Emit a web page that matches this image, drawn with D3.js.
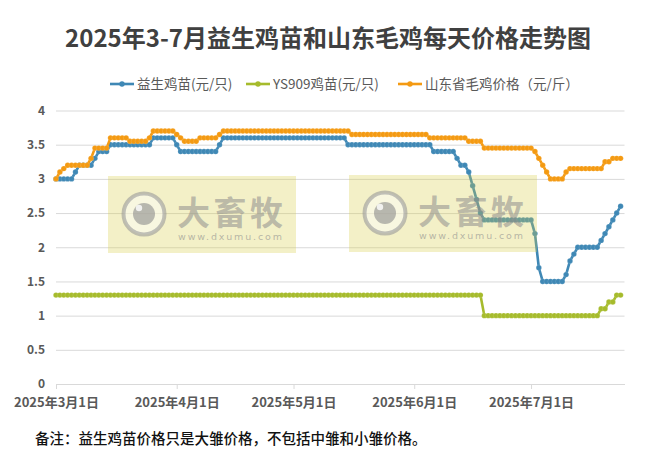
<!DOCTYPE html>
<html>
<head>
<meta charset="utf-8">
<script src="https://cdn.jsdelivr.net/npm/d3@7"></script>
<style>
  body { margin: 0; background: #fff; }
  svg { display: block; font-family: "Noto Sans CJK SC", "Noto Sans", sans-serif; }
</style>
</head>
<body>
<svg id="chart" width="662" height="459"></svg>
<script>
const title = '2025年3-7月益生鸡苗和山东毛鸡每天价格走势图'
const note = '备注：益生鸡苗价格只是大雏价格，不包括中雏和小雏价格。'
const seriesNames = ['益生鸡苗(元/只)', 'YS909鸡苗(元/只)', '山东省毛鸡价格（元/斤）']
const seriesColors = ['#3f88b5', '#a6bb2c', '#f49a12']
const startDate = '2025-03-01'
const endDate = '2025-07-25'
const tickDates = ['2025-03-01', '2025-04-01', '2025-05-01', '2025-06-01', '2025-07-01']
const tickLabels = ['2025年3月1日', '2025年4月1日', '2025年5月1日', '2025年6月1日', '2025年7月1日']
const yTicks = [0, 0.5, 1, 1.5, 2, 2.5, 3, 3.5, 4]

// daily prices from 3/1, one row per month
const yishengPrice = [
  3, 3, 3, 3, 3, 3.1, 3.2, 3.2, 3.2, 3.2, 3.3, 3.4, 3.4, 3.4, 3.5, 3.5, 3.5, 3.5, 3.5, 3.5, 3.5, 3.5, 3.5, 3.5, 3.5, 3.6, 3.6, 3.6, 3.6, 3.6, 3.6,
  3.5, 3.4, 3.4, 3.4, 3.4, 3.4, 3.4, 3.4, 3.4, 3.4, 3.4, 3.5, 3.6, 3.6, 3.6, 3.6, 3.6, 3.6, 3.6, 3.6, 3.6, 3.6, 3.6, 3.6, 3.6, 3.6, 3.6, 3.6, 3.6, 3.6,
  3.6, 3.6, 3.6, 3.6, 3.6, 3.6, 3.6, 3.6, 3.6, 3.6, 3.6, 3.6, 3.6, 3.6, 3.5, 3.5, 3.5, 3.5, 3.5, 3.5, 3.5, 3.5, 3.5, 3.5, 3.5, 3.5, 3.5, 3.5, 3.5, 3.5, 3.5,
  3.5, 3.5, 3.5, 3.5, 3.5, 3.4, 3.4, 3.4, 3.4, 3.4, 3.4, 3.3, 3.2, 3.2, 3.1, 2.9, 2.7, 2.5, 2.4, 2.4, 2.4, 2.4, 2.4, 2.4, 2.4, 2.4, 2.4, 2.4, 2.4, 2.4,
  2.4, 2.2, 1.7, 1.5, 1.5, 1.5, 1.5, 1.5, 1.5, 1.6, 1.8, 1.9, 2, 2, 2, 2, 2, 2, 2.1, 2.2, 2.3, 2.4, 2.5, 2.6
]
const ys909Price = [
  1.3, 1.3, 1.3, 1.3, 1.3, 1.3, 1.3, 1.3, 1.3, 1.3, 1.3, 1.3, 1.3, 1.3, 1.3, 1.3, 1.3, 1.3, 1.3, 1.3, 1.3, 1.3, 1.3, 1.3, 1.3, 1.3, 1.3, 1.3, 1.3, 1.3, 1.3,
  1.3, 1.3, 1.3, 1.3, 1.3, 1.3, 1.3, 1.3, 1.3, 1.3, 1.3, 1.3, 1.3, 1.3, 1.3, 1.3, 1.3, 1.3, 1.3, 1.3, 1.3, 1.3, 1.3, 1.3, 1.3, 1.3, 1.3, 1.3, 1.3, 1.3,
  1.3, 1.3, 1.3, 1.3, 1.3, 1.3, 1.3, 1.3, 1.3, 1.3, 1.3, 1.3, 1.3, 1.3, 1.3, 1.3, 1.3, 1.3, 1.3, 1.3, 1.3, 1.3, 1.3, 1.3, 1.3, 1.3, 1.3, 1.3, 1.3, 1.3, 1.3,
  1.3, 1.3, 1.3, 1.3, 1.3, 1.3, 1.3, 1.3, 1.3, 1.3, 1.3, 1.3, 1.3, 1.3, 1.3, 1.3, 1.3, 1.3, 1, 1, 1, 1, 1, 1, 1, 1, 1, 1, 1, 1,
  1, 1, 1, 1, 1, 1, 1, 1, 1, 1, 1, 1, 1, 1, 1, 1, 1, 1, 1.1, 1.1, 1.2, 1.2, 1.3, 1.3
]
const maojiPrice = [
  3, 3.1, 3.15, 3.2, 3.2, 3.2, 3.2, 3.2, 3.2, 3.3, 3.45, 3.45, 3.45, 3.45, 3.6, 3.6, 3.6, 3.6, 3.6, 3.55, 3.55, 3.55, 3.55, 3.55, 3.6, 3.7, 3.7, 3.7, 3.7, 3.7, 3.7,
  3.65, 3.6, 3.55, 3.55, 3.55, 3.55, 3.6, 3.6, 3.6, 3.6, 3.6, 3.65, 3.7, 3.7, 3.7, 3.7, 3.7, 3.7, 3.7, 3.7, 3.7, 3.7, 3.7, 3.7, 3.7, 3.7, 3.7, 3.7, 3.7, 3.7,
  3.7, 3.7, 3.7, 3.7, 3.7, 3.7, 3.7, 3.7, 3.7, 3.7, 3.7, 3.7, 3.7, 3.7, 3.7, 3.65, 3.65, 3.65, 3.65, 3.65, 3.65, 3.65, 3.65, 3.65, 3.65, 3.65, 3.65, 3.65, 3.65, 3.65, 3.65,
  3.65, 3.65, 3.65, 3.65, 3.6, 3.6, 3.6, 3.6, 3.6, 3.6, 3.6, 3.6, 3.6, 3.6, 3.55, 3.55, 3.55, 3.55, 3.45, 3.45, 3.45, 3.45, 3.45, 3.45, 3.45, 3.45, 3.45, 3.45, 3.45, 3.45,
  3.45, 3.4, 3.3, 3.2, 3.1, 3, 3, 3, 3, 3.1, 3.15, 3.15, 3.15, 3.15, 3.15, 3.15, 3.15, 3.15, 3.15, 3.25, 3.25, 3.3, 3.3, 3.3
]

const svg = d3.select('#chart')
const parseDate = d3.timeParse('%Y-%m-%d')

// plot area
const plot = { left: 56, right: 624.5, top: 110.5, bottom: 384 }

const first = parseDate(startDate)
const dates = d3.timeDay.range(first, d3.timeDay.offset(first, yishengPrice.length))
const series = [yishengPrice, ys909Price, maojiPrice].map((values, i) => ({
  name: seriesNames[i],
  color: seriesColors[i],
  points: values.map((v, j) => ({ date: dates[j], value: v }))
}))

const xScale = d3.scaleTime()
  .domain([first, parseDate(endDate)])
  .range([plot.left, plot.right])

const yScale = d3.scaleLinear()
  .domain([0, 4])
  .range([plot.bottom, plot.top])

// gridlines
svg.append('g')
  .attr('transform', `translate(${plot.left},0)`)
  .call(d3.axisLeft(yScale).tickValues(yTicks.slice(1)).tickSize(-(plot.right - plot.left)).tickFormat(''))
  .call(g => g.select('.domain').remove())
  .selectAll('line')
  .attr('stroke', '#d9d9d9')

// y axis labels
svg.append('g')
  .attr('transform', `translate(${plot.left},0)`)
  .call(d3.axisLeft(yScale).tickValues(yTicks).tickSize(0).tickPadding(11).tickFormat(d3.format('')))
  .call(g => g.select('.domain').remove())
  .selectAll('text')
  .attr('font-family', '"Noto Sans CJK SC", sans-serif')
  .attr('font-size', 12)
  .attr('font-weight', 'bold')
  .attr('fill', '#595959')

// x axis
const xAxis = svg.append('g')
  .attr('transform', `translate(0,${plot.bottom})`)
  .call(d3.axisBottom(xScale)
    .tickValues(tickDates.map(parseDate))
    .tickFormat((d, i) => tickLabels[i])
    .tickSize(5)
    .tickSizeOuter(0)
    .tickPadding(9))
xAxis.select('.domain').attr('stroke', '#d9d9d9')
xAxis.selectAll('.tick line').attr('stroke', '#d9d9d9')
xAxis.selectAll('text')
  .attr('font-family', '"Noto Sans CJK SC", sans-serif')
  .attr('font-size', 13)
  .attr('font-weight', 'bold')
  .attr('fill', '#595959')

// lines + markers
const line = d3.line()
  .x(d => xScale(d.date))
  .y(d => yScale(d.value))

const lines = svg.append('g')
series.forEach(s => {
  lines.append('path')
    .datum(s.points)
    .attr('d', line)
    .attr('fill', 'none')
    .attr('stroke', s.color)
    .attr('stroke-width', 2.6)
    .attr('stroke-linejoin', 'round')
  lines.selectAll(null)
    .data(s.points)
    .join('circle')
    .attr('cx', d => xScale(d.date))
    .attr('cy', d => yScale(d.value))
    .attr('r', 2.7)
    .attr('fill', s.color)
    .attr('stroke', '#fff')
    .attr('stroke-opacity', 0.25)
    .attr('stroke-width', 0.5)
})

// watermarks sit on top of the lines
const marks = [[108, 176], [349, 175]]
marks.forEach(([mx, my]) => {
  const w = svg.append('g').attr('transform', `translate(${mx},${my})`)
  w.append('rect')
    .attr('width', 188)
    .attr('height', 77)
    .attr('fill', '#d8cd45')
    .attr('fill-opacity', 0.3)
  w.append('circle')
    .attr('cx', 36).attr('cy', 38).attr('r', 20.5)
    .attr('fill', '#fff').attr('fill-opacity', 0.45)
    .attr('stroke', '#9a9a9a').attr('stroke-opacity', 0.6).attr('stroke-width', 4)
  w.append('circle')
    .attr('cx', 36).attr('cy', 38).attr('r', 11)
    .attr('fill', '#8c8c8c').attr('fill-opacity', 0.6)
  w.append('circle')
    .attr('cx', 31).attr('cy', 32).attr('r', 3.2)
    .attr('fill', '#fff').attr('fill-opacity', 0.8)
  w.append('text')
    .attr('x', 69).attr('y', 49)
    .attr('font-size', 33)
    .attr('font-weight', 'bold')
    .attr('fill', '#8c8c8c')
    .attr('fill-opacity', 0.55)
    .attr('textLength', 106)
    .text('大畜牧')
  w.append('text')
    .attr('x', 70).attr('y', 64)
    .attr('font-family', '"DejaVu Sans", sans-serif')
    .attr('font-size', 9.5)
    .attr('fill', '#8c8c8c')
    .attr('fill-opacity', 0.6)
    .attr('textLength', 104)
    .text('www.dxumu.com')
})

// title
svg.append('text')
  .attr('x', 328)
  .attr('y', 47)
  .attr('text-anchor', 'middle')
  .attr('font-size', 24)
  .attr('font-weight', 'bold')
  .attr('fill', '#404040')
  .text(title)

// legend
const legendX = [110, 246, 398]
const legend = svg.append('g').attr('transform', 'translate(0,84)')
series.forEach((s, i) => {
  const g = legend.append('g').attr('transform', `translate(${legendX[i]},0)`)
  g.append('line')
    .attr('x1', 0).attr('x2', 24)
    .attr('stroke', s.color)
    .attr('stroke-width', 2.6)
  g.append('circle')
    .attr('cx', 12).attr('r', 2.7)
    .attr('fill', s.color)
  g.append('text')
    .attr('x', 27)
    .attr('dy', '0.36em')
    .attr('font-size', 13.5)
    .attr('fill', '#595959')
    .text(s.name)
})

// footnote
svg.append('text')
  .attr('x', 35)
  .attr('y', 444)
  .attr('font-size', 14.5)
  .attr('font-weight', 500)
  .attr('fill', '#111')
  .text(note)
</script>
</body>
</html>
